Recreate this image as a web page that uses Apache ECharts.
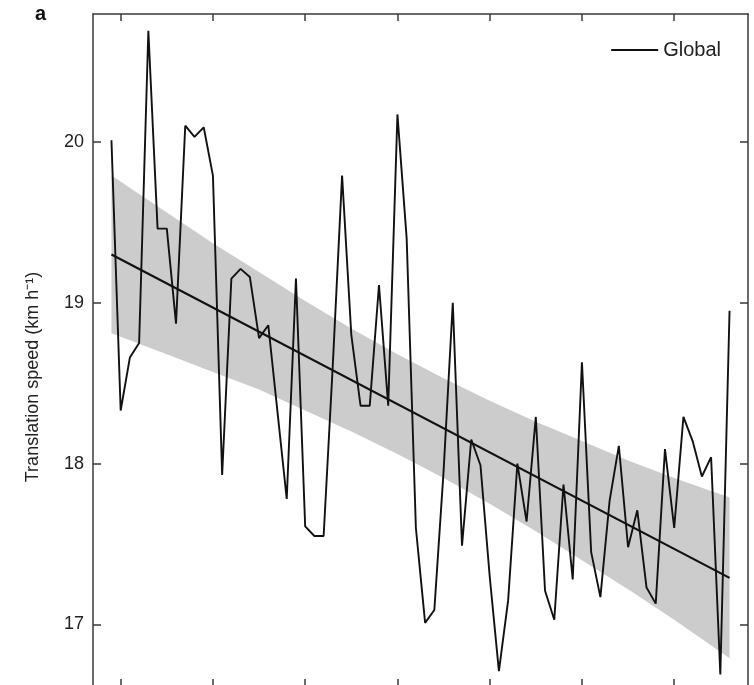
<!DOCTYPE html>
<html>
<head>
<meta charset="utf-8">
<title>Translation speed</title>
<script src="https://cdn.jsdelivr.net/npm/echarts@6/dist/echarts.min.js"></script>
<style>
  html, body { margin: 0; padding: 0; background: #fff; }
  #chart { width: 754px; height: 685px; }
</style>
</head>
<body>
<div id="chart"></div>
<script>
// yearly global translation speed (km/h), 1949 - 2016
const years = []
for (let y = 1949; y <= 2016; y++) years.push(y)
const speed = [
  20.01, 18.33, 18.66, 18.75, 20.69, 19.46, 19.46, 18.87, 20.10, 20.03,
  20.09, 19.79, 17.93, 19.15, 19.21, 19.16, 18.78, 18.86, 18.32, 17.78,
  19.15, 17.61, 17.55, 17.55, 18.62, 19.79, 18.80, 18.36, 18.36, 19.11,
  18.36, 20.17, 19.40, 17.60, 17.01, 17.09, 17.95, 19.00, 17.49, 18.15,
  17.99, 17.30, 16.71, 17.15, 18.00, 17.64, 18.29, 17.21, 17.03, 17.87,
  17.28, 18.63, 17.45, 17.17, 17.77, 18.11, 17.48, 17.71, 17.23, 17.13,
  18.09, 17.60, 18.29, 18.14, 17.92, 18.04, 16.69, 18.95,
]

// linear trend, read at both ends
const trendYears = [1949, 2016]
const trendValues = [19.30, 17.29]

// grey confidence band at a few years
const bandYears = [1949, 1955, 1960, 1965, 1970, 1975, 1980, 1985, 1990, 1995, 2000, 2005, 2010, 2016]
const bandLower = [18.81, 18.68, 18.57, 18.46, 18.33, 18.20, 18.06, 17.91, 17.75, 17.58, 17.40, 17.22, 17.03, 16.79]
const bandUpper = [19.79, 19.56, 19.37, 19.19, 19.01, 18.84, 18.68, 18.53, 18.39, 18.26, 18.14, 18.02, 17.91, 17.79]

// tick positions
const xTicks = [1950, 1960, 1970, 1980, 1990, 2000, 2010]
const yTicks = [17, 18, 19, 20]

const FONT = 'Liberation Sans, Arial, sans-serif'
const AXIS_COLOR = '#3a3a3a'

const myChart = echarts.init(document.getElementById('chart'))

const frameX = (position, labels) => ({
  type: 'value',
  position: position,
  min: 1947,
  max: 2018,
  splitLine: { show: false },
  axisLine: { onZero: false, lineStyle: { color: AXIS_COLOR, width: 1.5 } },
  axisTick: { inside: true, length: 7, customValues: xTicks, lineStyle: { color: AXIS_COLOR, width: 1.5 } },
  axisLabel: { show: labels, customValues: xTicks, color: '#222', fontSize: 18, fontFamily: FONT },
})

const frameY = (position, labels) => ({
  type: 'value',
  position: position,
  min: 16.618,
  max: 20.794,
  splitLine: { show: false },
  axisLine: { onZero: false, lineStyle: { color: AXIS_COLOR, width: 1.5 } },
  axisTick: { inside: true, length: 8, customValues: yTicks, lineStyle: { color: AXIS_COLOR, width: 1.5 } },
  axisLabel: {
    show: labels,
    customValues: yTicks,
    margin: 9,
    color: '#222',
    fontSize: 18,
    fontFamily: FONT,
    formatter: (v) => String(Math.round(v)),
  },
})

myChart.setOption({
  animation: false,
  backgroundColor: '#fff',
  grid: {
    left: 93,
    top: 14,
    width: 655,
    height: 672,
    outerBoundsMode: 'none',
    containLabel: false,
  },
  legend: {
    data: ['Global'],
    right: 28,
    top: 35,
    icon: 'rect',
    itemWidth: 47,
    itemHeight: 2,
    itemGap: 10,
    textStyle: { color: '#222', fontSize: 20, fontFamily: FONT },
  },
  graphic: [
    {
      type: 'text',
      x: 35,
      y: 4,
      style: { text: 'a', font: 'bold 20px ' + FONT, fill: '#111' },
    },
    {
      type: 'text',
      x: 33,
      y: 377,
      rotation: Math.PI / 2,
      style: {
        text: 'Translation speed (km h⁻¹)',
        font: '18px ' + FONT,
        fill: '#222',
        textAlign: 'center',
        textVerticalAlign: 'middle',
      },
    },
  ],
  xAxis: [frameX('bottom', true), frameX('top', false)],
  yAxis: [frameY('left', true), frameY('right', false)],
  series: [
    {
      // confidence band as one polygon
      name: 'band',
      type: 'custom',
      silent: true,
      z: 1,
      data: [[bandYears[0], bandLower[0]]],
      renderItem: function (params, api) {
        const pts = []
        for (let i = 0; i < bandYears.length; i++) pts.push(api.coord([bandYears[i], bandUpper[i]]))
        for (let i = bandYears.length - 1; i >= 0; i--) pts.push(api.coord([bandYears[i], bandLower[i]]))
        return {
          type: 'polygon',
          shape: { points: pts },
          style: { fill: '#cccccc', stroke: null },
        }
      },
    },
    {
      name: 'trend',
      type: 'line',
      z: 3,
      symbol: 'none',
      data: trendYears.map((y, i) => [y, trendValues[i]]),
      lineStyle: { color: '#111', width: 2.2 },
    },
    {
      name: 'Global',
      type: 'line',
      z: 4,
      symbol: 'none',
      data: years.map((y, i) => [y, speed[i]]),
      lineStyle: { color: '#111', width: 1.9 },
      itemStyle: { color: '#111' },
    },
  ],
})
</script>
</body>
</html>
